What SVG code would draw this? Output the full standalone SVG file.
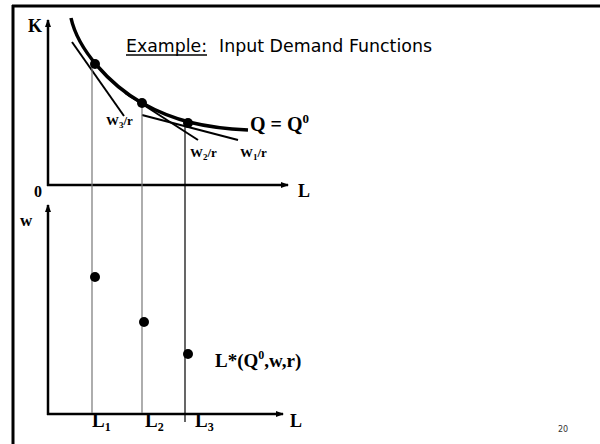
<svg xmlns="http://www.w3.org/2000/svg" width="600" height="444" viewBox="0 0 600 444">
<style>
.frame{stroke:#000;stroke-width:3;fill:none}
.axis{stroke:#000;stroke-width:2.5;fill:none}
.tan{stroke:#000;stroke-width:2;fill:none}
.curve{stroke:#000;stroke-width:3.5;fill:none}
.vg{stroke:#777;stroke-width:1.2}
.vb{stroke:#000;stroke-width:1.2}
.dot{fill:#000}
.lbl{font-family:"Liberation Serif",serif;font-weight:bold;fill:#000}
.ttl{font-family:"DejaVu Sans",sans-serif;font-size:18px;fill:#000}
</style>
<defs>
<marker id="arr" markerWidth="8" markerHeight="8" refX="7" refY="4" orient="auto" markerUnits="userSpaceOnUse">
<path d="M0,1 L8,4 L0,7 Z" fill="#000"/>
</marker>
</defs>
<rect width="600" height="444" fill="#fff"/>
<g id="frame">
<line class="frame" x1="12" y1="6" x2="600" y2="6"/>
<line class="frame" x1="13" y1="5" x2="13" y2="444"/>
</g>
<g id="title">
<text class="ttl" x="126" y="52" textLength="81" lengthAdjust="spacingAndGlyphs">Example:</text>
<line x1="126" y1="55" x2="207" y2="55" stroke="#000" stroke-width="1.5"/>
<text class="ttl" x="219" y="52" textLength="213" lengthAdjust="spacingAndGlyphs">Input Demand Functions</text>
</g>
<g id="connectors">
<line class="axis" x1="48" y1="186" x2="48" y2="20" marker-end="url(#arr)"/>
<line class="axis" x1="47" y1="185" x2="288" y2="185" marker-end="url(#arr)"/>
<line class="axis" x1="48" y1="415" x2="48" y2="205" marker-end="url(#arr)"/>
<line class="axis" x1="47" y1="414" x2="283" y2="414" marker-end="url(#arr)"/>
<path class="curve" d="M71,18 C78,50 110,85 142,103 S205,128 248,130"/>
<line class="tan" x1="72" y1="42" x2="124" y2="116"/>
<line class="tan" x1="125" y1="93" x2="198" y2="140"/>
<line class="tan" x1="142" y1="115" x2="238" y2="140"/>
<line class="vg" x1="92" y1="65" x2="92" y2="413"/>
<line class="vg" x1="142" y1="104" x2="142" y2="413"/>
<line class="vb" x1="185" y1="123" x2="185" y2="422"/>
</g>
<g id="points">
<circle class="dot" cx="95" cy="64" r="5"/>
<circle class="dot" cx="142" cy="103" r="5"/>
<circle class="dot" cx="188" cy="123" r="5"/>
<circle class="dot" cx="95" cy="277" r="5"/>
<circle class="dot" cx="144" cy="322" r="5"/>
<circle class="dot" cx="188" cy="354" r="5"/>
</g>
<g id="labels">
<text class="lbl" x="28" y="32" font-size="18">K</text>
<text class="lbl" x="34" y="197" font-size="16">0</text>
<text class="lbl" x="298" y="197" font-size="18">L</text>
<text class="lbl" x="20" y="226" font-size="17">w</text>
<text class="lbl" x="290" y="427" font-size="18">L</text>
<text class="lbl" x="250" y="131" font-size="20">Q = Q<tspan font-size="13" dy="-8">0</tspan></text>
<text class="lbl" x="106" y="125" font-size="13">W<tspan font-size="9" dy="3">3</tspan><tspan dy="-3">/r</tspan></text>
<text class="lbl" x="190" y="157" font-size="13">W<tspan font-size="9" dy="3">2</tspan><tspan dy="-3">/r</tspan></text>
<text class="lbl" x="240" y="157" font-size="13">W<tspan font-size="9" dy="3">1</tspan><tspan dy="-3">/r</tspan></text>
<text class="lbl" x="215" y="367" font-size="19">L*(Q<tspan font-size="12" dy="-8">0</tspan><tspan dy="8">,w,r)</tspan></text>
<text class="lbl" x="92" y="427" font-size="19">L<tspan font-size="12" dy="4">1</tspan></text>
<text class="lbl" x="145" y="427" font-size="19">L<tspan font-size="12" dy="4">2</tspan></text>
<text class="lbl" x="195" y="427" font-size="19">L<tspan font-size="12" dy="4">3</tspan></text>
<text x="558" y="432" font-family="DejaVu Sans,sans-serif" font-size="8" fill="#333">20</text>
</g>
</svg>
